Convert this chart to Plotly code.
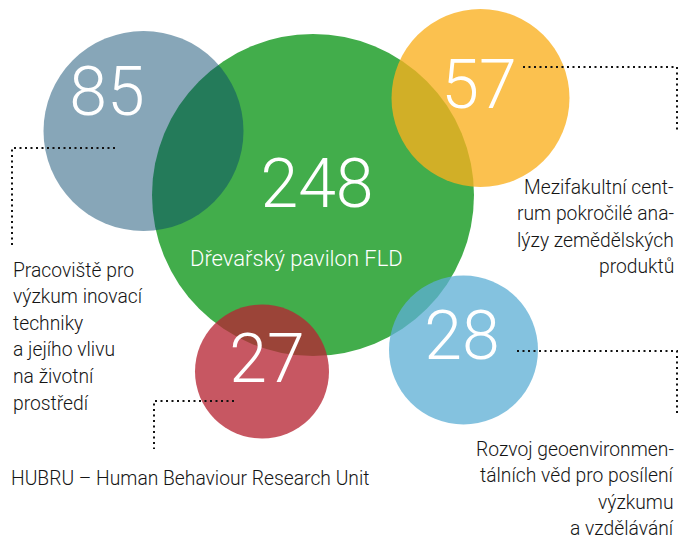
import plotly.graph_objects as go

# ---- data ----
values = [248, 85, 57, 27, 28]
names = [
    ["Dřevařský pavilon FLD"],
    ["Pracoviště pro", "výzkum inovací", "techniky", "a jejího vlivu", "na životní", "prostředí"],
    ["Mezifakultní cent-", "rum pokročilé ana-", "lýzy zemědělských", "produktů"],
    ["HUBRU – Human Behaviour Research Unit"],
    ["Rozvoj geoenvironmen-", "tálních věd pro posílení", "výzkumu", "a vzdělávání"],
]

# ---- layout of bubbles (pixel-like canvas units) ----
bx = [313, 143.5, 480.5, 262, 463.5]
by = [195, 131, 98, 371.5, 350]
bd = [322, 200, 178, 134, 149]
colors = [
    "rgba(66,173,75,1)",
    "rgba(5,70,107,0.48)",
    "rgba(250,176,29,0.78)",
    "rgba(182,36,51,0.77)",
    "rgba(93,175,213,0.76)",
]
num_x = [317, 107, 479, 267, 462]
num_y = [190, 98, 91, 365, 342]

# label placement: anchor x, first line centre y, line step, alignment
lab_x = [296.5, 11, 676, 9, 676]
lab_y = [258, 270, 187, 478, 449]
lab_step = 26.6
lab_anchor = ["center", "left", "right", "left", "right"]

W, H = 681, 540
fig = go.Figure()

for i in range(len(values)):
    fig.add_trace(go.Scatter(
        x=[bx[i]], y=[by[i]], mode="markers",
        marker=dict(size=bd[i], color=colors[i], line=dict(width=0)),
        hoverinfo="skip", showlegend=False,
    ))

fig.add_trace(go.Scatter(
    x=num_x, y=num_y, mode="text", text=[str(v) for v in values],
    textposition="middle center",
    textfont=dict(family="Roboto", size=68, color="white", weight=300),
    hoverinfo="skip", showlegend=False,
))

annots = []
for i, lines in enumerate(names):
    if i == 0:
        font = dict(family="Roboto", size=22, color="white", weight=300)
    else:
        font = dict(family="Roboto", size=19.3, color="#151515", weight=300)
    for j, line in enumerate(lines):
        annots.append(dict(
            x=lab_x[i], y=lab_y[i] + j * lab_step, text=line,
            xref="x", yref="y", showarrow=False,
            xanchor=lab_anchor[i], yanchor="middle", font=font,
        ))
fig.update_layout(annotations=annots)

# dotted leader lines
leaders = [
    [(115, 148), (12, 148), (12, 247)],
    [(523, 67), (677, 67), (677, 130)],
    [(234, 401), (154, 401), (154, 449)],
    [(517, 351), (677, 351), (677, 414)],
]
for pts in leaders:
    fig.add_trace(go.Scatter(
        x=[p[0] for p in pts], y=[p[1] for p in pts], mode="lines",
        line=dict(color="#111111", width=2, dash="2px,3.5px"),
        hoverinfo="skip", showlegend=False,
    ))

fig.update_layout(
    width=W, height=H,
    margin=dict(l=0, r=0, t=0, b=0),
    paper_bgcolor="white", plot_bgcolor="white",
    xaxis=dict(range=[0, W], visible=False, fixedrange=True),
    yaxis=dict(range=[H, 0], visible=False, fixedrange=True),
)

fig.write_html(
    "out.html",
    config={"displayModeBar": False},
    post_script="document.body.style.margin='0';document.body.style.overflow='hidden';",
)
